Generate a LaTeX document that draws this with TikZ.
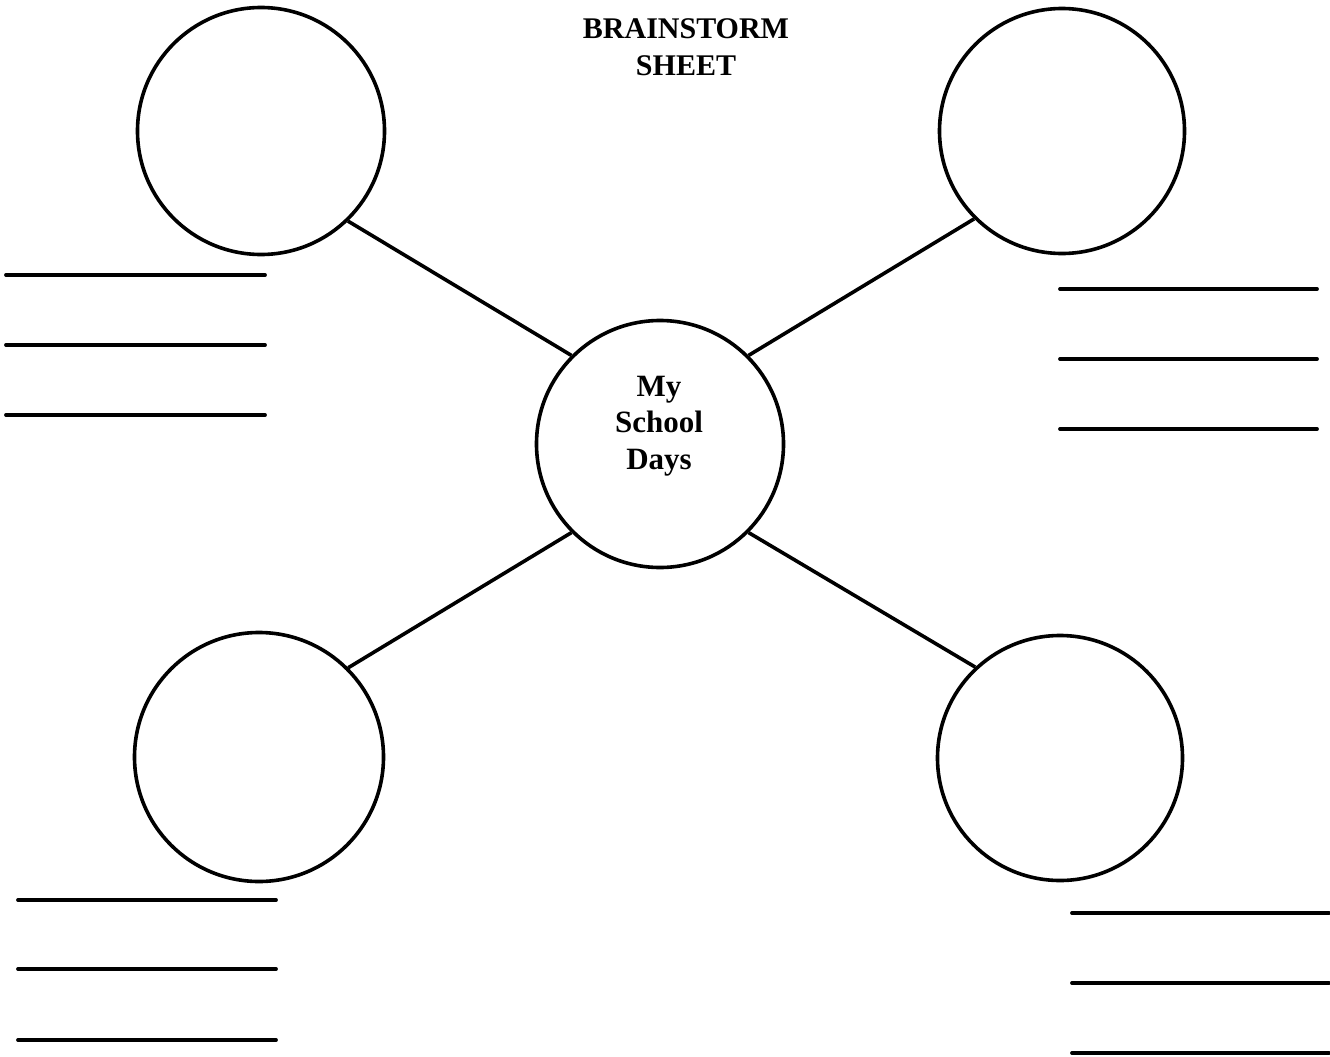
\documentclass[tikz,border=0pt]{standalone}
\usepackage{fontspec}
\setmainfont{Liberation Serif}
\begin{document}
\begin{tikzpicture}[x=1pt,y=-1pt,
  bubble/.style={circle,draw,line width=3.6pt,minimum size=247pt,inner sep=0pt},
  link/.style={line width=3.6pt},
  rule/.style={line width=3.8pt,line cap=round},
  lbl/.style={font=\fontsize{30}{37}\selectfont\bfseries,align=center}]
\useasboundingbox (0,0) rectangle (1330,1057);
\fill[white] (0,0) rectangle (1330,1057);
% title
\node[lbl,anchor=base] (t1) at (686,38) {BRAINSTORM};
\node[lbl,anchor=base] (t2) at (686,75) {SHEET};
% circles
\node[bubble] (c) at (660,444) {};
\node[lbl,font=\fontsize{31}{37}\selectfont\bfseries,anchor=base] (m1) at (659,396) {My};
\node[lbl,font=\fontsize{31}{37}\selectfont\bfseries,anchor=base] (m2) at (659,432) {School};
\node[lbl,font=\fontsize{31}{37}\selectfont\bfseries,anchor=base] (m3) at (659,469) {Days};
\node[bubble] (tl) at (261,131) {};
\node[bubble,minimum size=245pt] (tr) at (1062,131) {};
\node[bubble,minimum size=249pt] (bl) at (259,757) {};
\node[bubble,minimum size=245pt] (br) at (1060,758) {};
% connectors
\draw[link] (tl.314) -- (c.135);
\draw[link] (tr.225) -- (c.45);
\draw[link] (bl.45) -- (c.225);
\draw[link] (br.133) -- (c.315);
% writing lines
\foreach \yy in {275,345,415} \draw[rule] (6,\yy) -- (265,\yy);
\foreach \yy in {289,359,429} \draw[rule] (1060,\yy) -- (1317,\yy);
\foreach \yy in {900,969,1040} \draw[rule] (18,\yy) -- (276,\yy);
\foreach \yy in {913,983,1053} \draw[rule] (1072,\yy) -- (1329,\yy);
\end{tikzpicture}
\end{document}
